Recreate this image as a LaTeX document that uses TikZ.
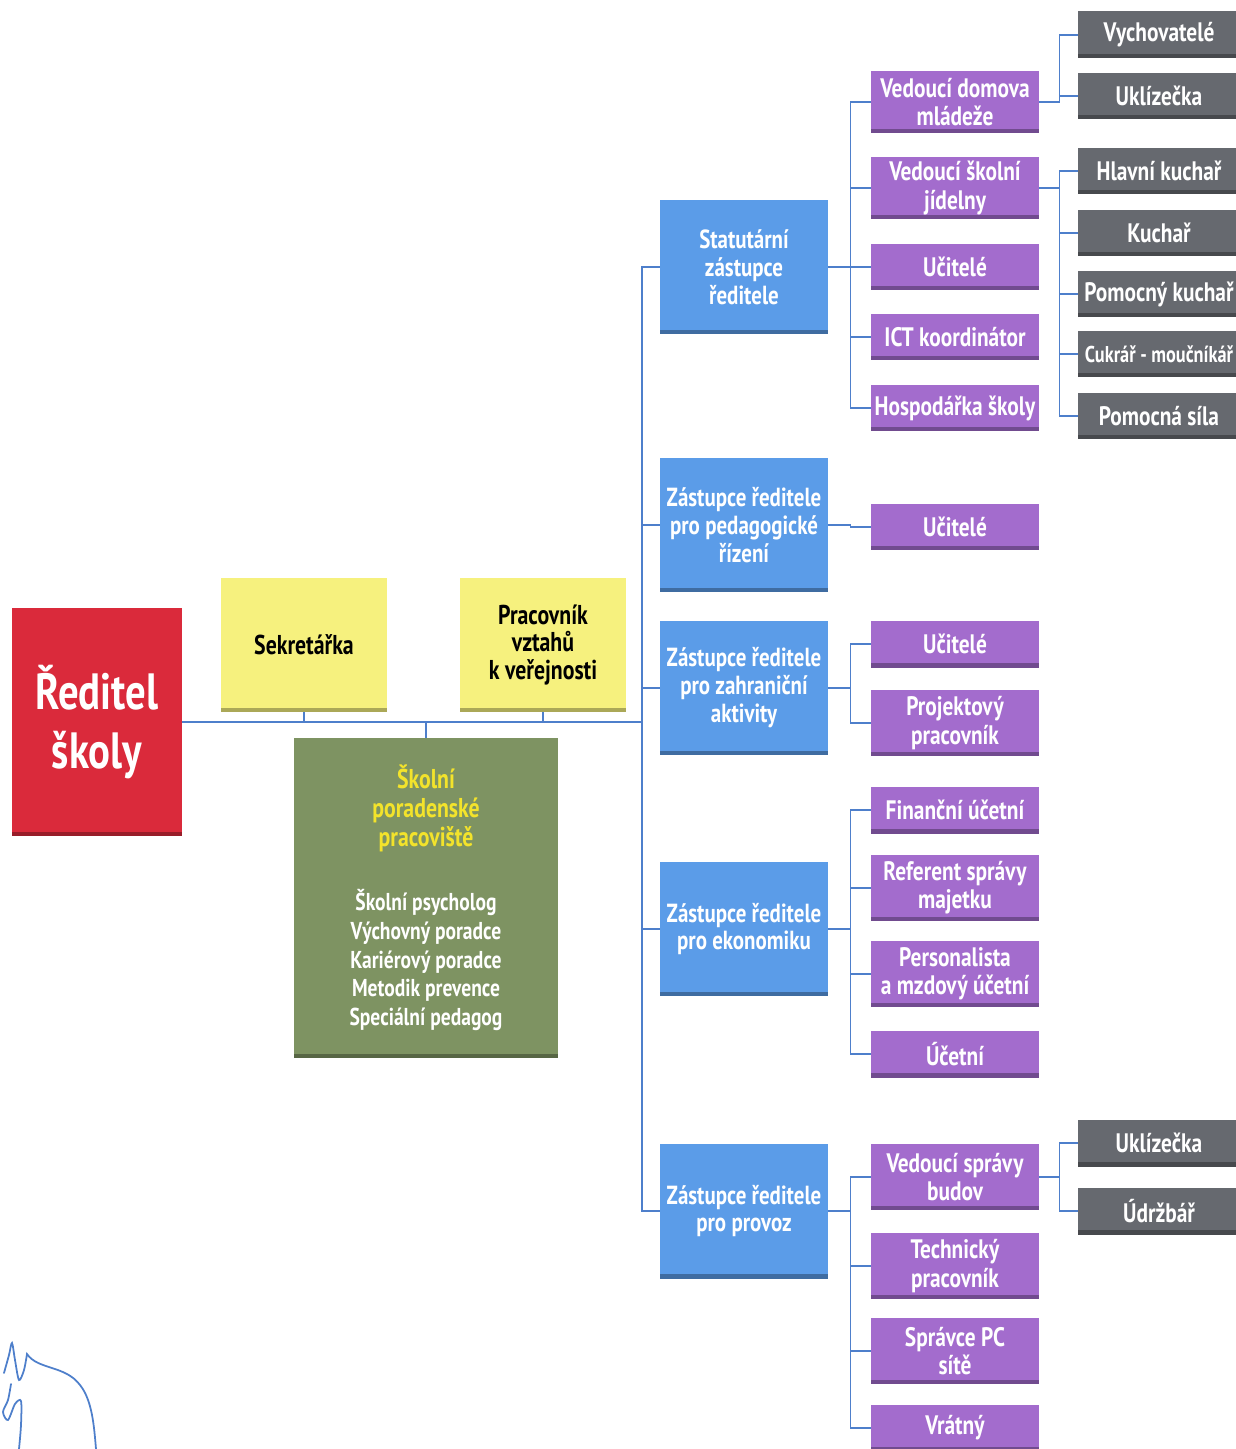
\documentclass[tikz,border=0pt]{standalone}
\usepackage{fontspec}
\setmainfont[FakeStretch=0.8]{PT Sans}
\definecolor{cervena}{HTML}{DA2A3B}
\definecolor{zluta}{HTML}{F6F17E}
\definecolor{zelena}{HTML}{7E9362}
\definecolor{nadpis}{HTML}{F3E32B}
\definecolor{modra}{HTML}{5B9CE8}
\definecolor{fialova}{HTML}{A36CCD}
\definecolor{seda}{HTML}{66696F}
\definecolor{cara}{HTML}{4E7FCB}
\newcommand\poradnanadpis[1]{{\fontsize{15.5}{15.9}\selectfont\color{nadpis}#1}}

\begin{document}
\begin{tikzpicture}[x=0.02cm, y=-0.02cm]
\tikzstyle{box} = [rectangle, inner sep=1pt, align=center, font=\bfseries,
  path picture={\fill[black, opacity=.3] (path picture bounding box.south west)
    rectangle ([yshift=2.5pt]path picture bounding box.south east);}]
\tikzstyle{reditelbox} = [box, fill=cervena, text=white, minimum width=3.4cm, minimum height=4.56cm, font=\fontsize{29}{34}\selectfont\bfseries]
\tikzstyle{zlutybox} = [box, fill=zluta, text=black, minimum width=3.34cm, minimum height=2.68cm, font=\fontsize{15.5}{15.9}\selectfont\bfseries]
\tikzstyle{zelenybox} = [box, fill=zelena, text=white, minimum width=5.28cm, minimum height=6.4cm, font=\fontsize{13.9}{16.4}\selectfont\bfseries]
\tikzstyle{modrybox} = [box, fill=modra, text=white, minimum width=3.36cm, minimum height=2.7cm, font=\fontsize{14.9}{15.9}\selectfont\bfseries]
\tikzstyle{fialbox} = [box, fill=fialova, text=white, minimum width=3.36cm, font=\fontsize{15.2}{16}\selectfont\bfseries]
\tikzstyle{sedybox} = [box, fill=seda, text=white, minimum width=3.24cm, minimum height=0.94cm, font=\fontsize{15.2}{16}\selectfont\bfseries]
\tikzstyle{spoj} = [draw=cara, line width=0.7pt]

\useasboundingbox (0,0) rectangle (1236,1449);

% Vedení
\node[reditelbox] (reditel) at (97,722) {Ředitel\\školy};
\node[zlutybox] (sekretarka) at (304,645) {Sekretářka};
\node[zlutybox] (pr) at (543,645) {Pracovník\\vztahů\\k veřejnosti};
\node[zelenybox] (poradna) at (426,898) {\poradnanadpis{Školní}\\\poradnanadpis{poradenské}\\\poradnanadpis{pracoviště}\\[20pt]
  Školní psycholog\\Výchovný poradce\\Kariérový poradce\\Metodik prevence\\Speciální pedagog};
\coordinate (kmen) at (642,722);

\draw[spoj] (reditel.east) -- (kmen);
\draw[spoj] (sekretarka.south) -- (sekretarka.south |- kmen);
\draw[spoj] (pr.south) -- (pr.south |- kmen);
\draw[spoj] (poradna.north) -- (poradna.north |- kmen);

% Zástupci
\foreach \n/\y/\t in {stat/267/{Statutární\\zástupce\\ředitele},
                      ped/525/{Zástupce ředitele\\pro pedagogické\\řízení},
                      zahr/688/{Zástupce ředitele\\pro zahraniční\\aktivity},
                      ekon/929/{Zástupce ředitele\\pro ekonomiku},
                      prov/1211/{Zástupce ředitele\\pro provoz}} {
  \node[modrybox] (\n) at (744,\y) {\t};
  \draw[spoj] (kmen) |- (\n.west);
}

% Podřízení zástupců
\foreach \z/\n/\y/\h/\t in {stat/sa/102/1.24/{Vedoucí domova\\mládeže},
                            stat/sb/188/1.24/{Vedoucí školní\\jídelny},
                            stat/sc/267/0.94/Učitelé,
                            stat/sd/337/0.94/ICT koordinátor,
                            stat/se/408/0.94/Hospodářka školy,
                            ped/pa/527/0.94/Učitelé,
                            zahr/za/644/0.94/Učitelé,
                            zahr/zb/723/1.32/{Projektový\\pracovník},
                            ekon/ea/810/0.94/Finanční účetní,
                            ekon/eb/888/1.32/{Referent správy\\majetku},
                            ekon/ec/974/1.32/{Personalista\\a mzdový účetní},
                            ekon/ed/1054/0.94/Účetní,
                            prov/va/1177/1.32/{Vedoucí správy\\budov},
                            prov/vb/1266/1.32/{Technický\\pracovník},
                            prov/vc/1351/1.32/{Správce PC\\sítě},
                            prov/vd/1428/0.94/Vrátný} {
  \node[fialbox, minimum height=\h cm] (\n) at (955,\y) {\t};
  \draw[spoj] (\z.east) -- +(22,0) |- (\n.west);
}

% Provozní pracovníci
\foreach \v/\n/\y/\t in {sa/ga/35/Vychovatelé,
                         sa/gb/96/Uklízečka,
                         sb/gc/171/Hlavní kuchař,
                         sb/gd/233/Kuchař,
                         sb/ge/294/Pomocný kuchař,
                         sb/gf/354/{\fontsize{13}{14}\selectfont Cukrář - moučníkář},
                         sb/gg/416/Pomocná síla,
                         va/gh/1143/Uklízečka,
                         va/gi/1211/Údržbář} {
  \node[sedybox] (\n) at (1159,\y) {\t};
  \draw[spoj] (\v.east) -- +(20,0) |- (\n.west);
}

% Podpis
\draw[cara, line width=1pt, line cap=round] plot[smooth] coordinates {(4,1373) (9,1355) (12,1343) (15,1360) (19,1380) (24,1370) (27,1354)}
  .. controls (38,1370) and (65,1365) .. (80,1385) .. controls (92,1400) and (94,1425) .. (96,1449);
\draw[cara, line width=1pt, line cap=round] plot[smooth] coordinates {(11,1384) (8,1400) (3,1412) (8,1420) (15,1404) (21,1401) (21,1425) (19,1449)};
\end{tikzpicture}
\end{document}
